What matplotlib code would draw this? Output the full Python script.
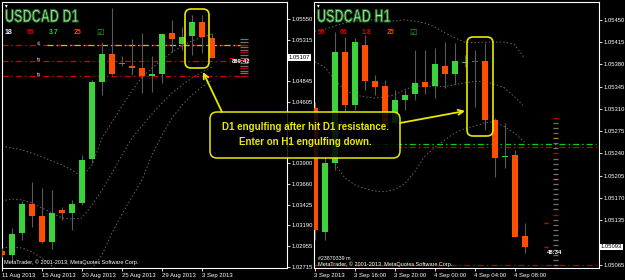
import numpy as np
import matplotlib.pyplot as plt
from matplotlib.patches import FancyBboxPatch, Rectangle, PathPatch
from matplotlib.textpath import TextPath
from matplotlib.font_manager import FontProperties
from matplotlib.transforms import blended_transform_factory, Affine2D

plt.rcParams['font.family'] = ['Liberation Sans', 'DejaVu Sans']
plt.rcParams['lines.scale_dashes'] = False

# ---------------- D1 chart (11 Aug - 4 Sep 2013) ----------------
d1_open = [1.02901, 1.02852, 1.03104, 1.03435, 1.03298, 1.03001, 1.03367, 1.03332,
           1.03447, 1.03950, 1.04830, 1.05150, 1.05047, 1.05016, 1.04986, 1.04898,
           1.04921, 1.05390, 1.05264, 1.05356, 1.05516, 1.05333]
d1_high = [1.02930, 1.03161, 1.03470, 1.03687, 1.03618, 1.03595, 1.03400, 1.03481,
           1.03995, 1.04850, 1.05287, 1.05676, 1.05127, 1.05321, 1.05390, 1.05127,
           1.05390, 1.05539, 1.05459, 1.05596, 1.05596, 1.05390]
d1_low = [1.02830, 1.02772, 1.03024, 1.03172, 1.02990, 1.02921, 1.03250, 1.03138,
          1.03424, 1.03900, 1.04681, 1.04910, 1.05013, 1.04910, 1.04704, 1.04716,
          1.04818, 1.05173, 1.05196, 1.05138, 1.05161, 1.05104]
d1_close = [1.02852, 1.03093, 1.03435, 1.03298, 1.03001, 1.03332, 1.03332, 1.03435,
            1.03938, 1.04830, 1.05150, 1.04921, 1.05030, 1.04993, 1.04902, 1.04921,
            1.05379, 1.05321, 1.05344, 1.05516, 1.05344, 1.05107]
d1_upper = [1.04098, 1.04076, 1.04053, 1.04018, 1.03973, 1.03927, 1.03881, 1.03824,
            1.03744, 1.03881, 1.04190, 1.04373, 1.04556, 1.04727, 1.04887, 1.04990,
            1.05081, 1.05173, 1.05241, 1.05299, 1.05344, 1.05379]
d1_mid = [1.03470, 1.03493, 1.03481, 1.03447, 1.03390, 1.03333, 1.03275, 1.03264,
          1.03275, 1.03424, 1.03596, 1.03790, 1.03996, 1.04190, 1.04327, 1.04464,
          1.04590, 1.04704, 1.04796, 1.04876, 1.04944, 1.05001]
d1_lower = [1.02933, 1.02944, 1.02933, 1.02887, 1.02818, 1.02727, 1.02635, 1.02590,
            1.02612, 1.02704, 1.02853, 1.03104, 1.03321, 1.03515, 1.03710, 1.03996,
            1.04224, 1.04418, 1.04567, 1.04681, 1.04773, 1.04853]
d1_date_pos = [0, 4, 8, 12, 16, 20]
d1_date_labels = ['11 Aug 2013', '15 Aug 2013', '20 Aug 2013', '25 Aug 2013',
                  '29 Aug 2013', '3 Sep 2013']
d1_price_ticks = [1.05550, 1.05315, 1.04845, 1.04605, 1.04370, 1.04135, 1.03900,
                  1.03660, 1.03425, 1.03190, 1.02955, 1.02715]
d1_hidden_ticks = [1.04370, 1.04135]   # covered by the callout
d1_last = 1.05107

# ---------------- H1 chart (3 Sep 12:00 - 4 Sep 09:00) ----------------
h1_open = [1.05312, 1.05117, 1.05225, 1.05400, 1.05316, 1.05411, 1.05354, 1.05346,
           1.05288, 1.05324, 1.05334, 1.05353, 1.05346, 1.05378, 1.05365, 1.05382,
           1.05384, 1.05386, 1.05293, 1.05234, 1.05238, 1.05111]
h1_high = [1.05321, 1.05238, 1.05431, 1.05423, 1.05422, 1.05426, 1.05364, 1.05356,
           1.05340, 1.05340, 1.05403, 1.05403, 1.05406, 1.05415, 1.05414, 1.05395,
           1.05403, 1.05414, 1.05296, 1.05288, 1.05246, 1.05131]
h1_low = [1.05104, 1.05104, 1.05214, 1.05305, 1.05309, 1.05340, 1.05332, 1.05277,
          1.05282, 1.05309, 1.05324, 1.05334, 1.05327, 1.05343, 1.05349, 1.05376,
          1.05313, 1.05277, 1.05203, 1.05217, 1.05109, 1.05084]
h1_close = [1.05120, 1.05225, 1.05400, 1.05316, 1.05415, 1.05354, 1.05345, 1.05285,
            1.05324, 1.05332, 1.05351, 1.05345, 1.05381, 1.05365, 1.05386, 1.05384,
            1.05384, 1.05293, 1.05233, 1.05236, 1.05109, 1.05093]
h1_upper = [1.05432, 1.05435, 1.05440, 1.05445, 1.05448, 1.05450, 1.05450, 1.05449,
            1.05448, 1.05450, 1.05448, 1.05445, 1.05439, 1.05430, 1.05422, 1.05415,
            1.05414, 1.05415, 1.05415, 1.05415, 1.05411, 1.05390]
h1_mid = [1.05384, 1.05376, 1.05356, 1.05340, 1.05332, 1.05329, 1.05327, 1.05329,
          1.05332, 1.05340, 1.05346, 1.05346, 1.05345, 1.05345, 1.05348, 1.05351,
          1.05353, 1.05353, 1.05349, 1.05343, 1.05329, 1.05313]
h1_lower = [1.05277, 1.05254, 1.05225, 1.05202, 1.05191, 1.05185, 1.05181, 1.05180,
            1.05183, 1.05192, 1.05211, 1.05235, 1.05249, 1.05261, 1.05272, 1.05279,
            1.05283, 1.05288, 1.05290, 1.05282, 1.05272, 1.05258]
h1_date_pos = [0, 4, 8, 12, 16, 20]
h1_date_labels = ['3 Sep 2013', '3 Sep 16:00', '3 Sep 20:00', '4 Sep 00:00',
                  '4 Sep 04:00', '4 Sep 08:00']
h1_price_ticks = [1.05450, 1.05415, 1.05380, 1.05345, 1.05310, 1.05275, 1.05240,
                  1.05205, 1.05170, 1.05135, 1.05065]
h1_last = 1.05093

# trade levels (shared by both charts)
sl_red = 1.05250
sl_green = 1.05255
tp_1 = 1.05065
tp_2 = 1.04898

GREEN = '#3CD23C'
ORANGE = '#FF4E00'
WICK = '#5A5A5A'
YELLOW = '#E8E800'
DASHDOT = (0, (4.3, 2.2, 1.1, 2.2))
DOT = (0, (1.0, 1.6))


def draw_candles(ax, o, h, l, c, min_body):
    for i in range(len(o)):
        ax.vlines(i, l[i], h[i], color=WICK, lw=0.8, zorder=3)
        if c[i] > o[i]:
            col = GREEN
        elif c[i] < o[i]:
            col = ORANGE
        else:
            col = WICK
        lo, hi = min(o[i], c[i]), max(o[i], c[i])
        ax.add_patch(Rectangle((i - 0.3, lo), 0.6, max(hi - lo, min_body),
                               facecolor=col, edgecolor='none', zorder=4))


def style_axes(ax, price_ticks, date_pos, date_labels, last, xlim, ylim, hidden=()):
    ax.set_facecolor('black')
    ax.set_xlim(*xlim)
    ax.set_ylim(*ylim)
    for s in ax.spines.values():
        s.set_color('white')
        s.set_linewidth(0.8)
    ax.yaxis.tick_right()
    ax.set_yticks(price_ticks)
    ax.set_yticklabels(['' if p in hidden else f'{p:.5f}' for p in price_ticks])
    ax.tick_params(axis='y', colors='white', labelsize=4.2, length=2, width=0.6, pad=1)
    ax.set_xticks(date_pos)
    ax.set_xticklabels(date_labels)
    ax.tick_params(axis='x', colors='white', labelsize=4.3, length=2, width=0.6, pad=1.5)
    for t in ax.get_xticklabels():
        t.set_ha('left')
    tr = blended_transform_factory(ax.transAxes, ax.transData)
    ax.text(1.006, last, f'{last:.5f}', transform=tr, ha='left', va='center',
            fontsize=4.2, color='black', clip_on=False, zorder=20,
            bbox=dict(facecolor='white', edgecolor='none', pad=0.6))


fig = plt.figure(figsize=(6.25, 2.8), dpi=100, facecolor='black')
axL = fig.add_axes([2 / 625, 12 / 280, 285 / 625, 266 / 280])
axR = fig.add_axes([314 / 625, 12 / 280, 285 / 625, 266 / 280])

# ---- left: D1 ----
style_axes(axL, d1_price_ticks, d1_date_pos, d1_date_labels, d1_last,
           (0, 28.5), (1.02704, 1.05744), hidden=d1_hidden_ticks)
xs = np.arange(len(d1_open))
for band in (d1_upper, d1_mid, d1_lower):
    axL.plot(xs, band, color='#6A6A6A', lw=0.7, linestyle=DOT, zorder=2)
axL.hlines(sl_red, 0, 24.3, color='#D00000', lw=0.9, linestyles=[DASHDOT], zorder=2)
axL.hlines(sl_green, 4.5, 24.0, color='#A8D400', lw=0.9, linestyles=[DASHDOT], zorder=2)
axL.hlines(tp_1, 0, 24.1, color='#D00000', lw=0.9, linestyles=[DASHDOT], zorder=2)
axL.hlines(tp_2, 0, 24.3, color='#D00000', lw=0.9, linestyles=[DASHDOT], zorder=2)
draw_candles(axL, d1_open, d1_high, d1_low, d1_close, 0.00012)
for lvl, lab in ((sl_green, 'sl'), (tp_1, 'tp'), (tp_2, 'tp')):
    axL.text(3.5, lvl + 0.0002, lab, fontsize=3.6, color='#C8D8F0', ha='left', va='center',
             zorder=6)
# price ladder on the right of the last bar
for j, p in enumerate(np.arange(1.04898, 1.05320, 0.00030)):
    axL.hlines(p, 23.8, 24.6, color='#C00000' if j % 3 == 0 else '#707070', lw=0.9, zorder=5)
axL.hlines(d1_last, 22.7, 23.1, color='#E00000', lw=1.0, zorder=6)
axL.text(23.0, tp_1 - 0.00005, '889:42', fontsize=4.2, color='white', ha='left',
         va='center', zorder=7, fontweight='bold')
axL.text(0.2, 1.02765, 'MetaTrader, \u00a9 2001-2013, MetaQuotes Software Corp.',
         fontsize=4.0, color='white', ha='left', va='center', zorder=7)

# ---- right: H1 ----
style_axes(axR, h1_price_ticks, h1_date_pos, h1_date_labels, h1_last,
           (-0.05, 28.45), (1.05060, 1.05478))
xs = np.arange(len(h1_open))
for band in (h1_upper, h1_mid, h1_lower):
    axR.plot(xs, band, color='#6A6A6A', lw=0.7, linestyle=DOT, zorder=2)
axR.hlines(sl_red, -0.05, 28.2, color='#D00000', lw=0.9, linestyles=[DASHDOT], zorder=2)
axR.hlines(sl_green, -0.05, 28.1, color='#00D800', lw=0.9, linestyles=[DASHDOT], zorder=2)
axR.hlines(tp_1, -0.05, 28.2, color='#B00000', lw=0.9, linestyles=[DASHDOT], zorder=2)
draw_candles(axR, h1_open, h1_high, h1_low, h1_close, 0.000018)
for j, p in enumerate(np.arange(1.05296, 1.05058, -0.00008)):
    col = '#C00000' if j in (0, 7, 19) else ('#D08000' if j in (4, 12) else '#707070')
    axR.hlines(p, 23.8, 24.3, color=col, lw=0.9, zorder=5)
axR.hlines([1.05131, h1_last], 22.9, 23.3, color='#E00000', lw=1.0, zorder=6)
axR.text(23.25, h1_last - 0.00009, '48:34', fontsize=4.2, color='white', ha='left',
         va='center', zorder=7, fontweight='bold')
axR.text(0.3, 1.05075, '#23870339 m', fontsize=3.8, color='white', ha='left',
         va='center', zorder=7)
axR.text(0.3, 1.05066, 'MetaTrader, \u00a9 2001-2013, MetaQuotes Software Corp.',
         fontsize=4.0, color='white', ha='left', va='center', zorder=7)

# ---- overlay in pixel coordinates ----
ov = fig.add_axes([0, 0, 1, 1], zorder=10)
ov.set_xlim(0, 625)
ov.set_ylim(280, 0)
ov.axis('off')
ov.patch.set_alpha(0)

# condensed bold chart titles (text path squeezed horizontally)
title_prop = FontProperties(family='Liberation Sans', weight='bold')
for x0, title in ((5, 'USDCAD D1'), (317, 'USDCAD H1')):
    tpath = TextPath((0, 0), title, size=18, prop=title_prop)
    squeeze = Affine2D().scale(0.70, -1.0).translate(x0, 22)
    ov.add_patch(PathPatch(squeeze.transform_path(tpath), facecolor='#98F598',
                           edgecolor='#2A6A2A', lw=0.7))
    ov.text(x0, 6, '\u25be', fontsize=4, color='white', ha='left', va='center',
            family='DejaVu Sans')

stats_left = [('18', '#E8ECFF', 5), ('66', '#E00000', 27), ('3.7', '#20D020', 49),
              ('25', '#FF4500', 74)]
stats_right = [('36', '#E00000', 318), ('66', '#E00000', 340), ('1.8', '#E00000', 362),
               ('25', '#FF4500', 387)]
for txt, col, x0 in stats_left + stats_right:
    ov.text(x0, 32, txt, fontsize=5, fontweight='bold', color=col, ha='left', va='center')
for x0 in (96, 409):
    ov.text(x0, 32, '\u2611', fontsize=6, color='#20B020', ha='left', va='center',
            family='DejaVu Sans')

# highlight boxes
for (bx, by, bw, bh) in ((185, 9, 24, 59), (467, 37, 26, 99)):
    ov.add_patch(FancyBboxPatch((bx, by), bw, bh, boxstyle='round,pad=0,rounding_size=6',
                                facecolor='none', edgecolor=YELLOW, lw=1.2))

# callout
ov.add_patch(FancyBboxPatch((210, 112), 190, 46, boxstyle='round,pad=0,rounding_size=7',
                            facecolor='black', alpha=0.85, edgecolor='none'))
ov.add_patch(FancyBboxPatch((210, 112), 190, 46, boxstyle='round,pad=0,rounding_size=7',
                            facecolor='none', edgecolor=YELLOW, lw=1.1))
ov.text(305, 127, 'D1 engulfing after hit D1 resistance.', fontsize=7.0, fontweight='bold',
        color=YELLOW, ha='center', va='center')
ov.text(305, 142, 'Enter on H1 engulfing down.', fontsize=7.0, fontweight='bold',
        color=YELLOW, ha='center', va='center')
arrow = dict(arrowstyle='->', color=YELLOW, lw=1.3, mutation_scale=9, shrinkA=0, shrinkB=0)
ov.annotate('', xy=(203, 72), xytext=(222, 112), arrowprops=arrow)
ov.annotate('', xy=(465, 111), xytext=(400, 123), arrowprops=arrow)

fig.savefig('out.png', dpi=100, facecolor='black')
